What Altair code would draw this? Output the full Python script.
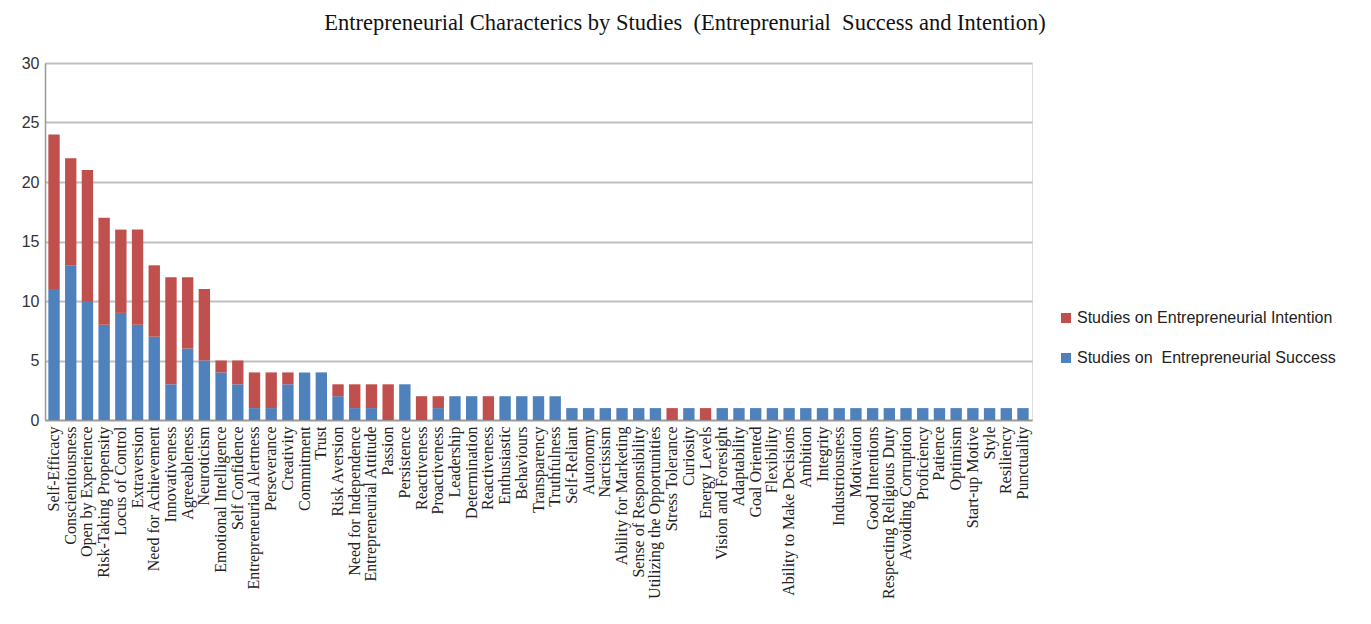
import altair as alt
import pandas as pd

categories = [
    "Self-Efficacy", "Conscientiousness", "Open by Experience", "Risk-Taking Propensity",
    "Locus of Control", "Extraversion", "Need for Achievement", "Innovativeness",
    "Agreeableness", "Neuroticism", "Emotional Intelligence", "Self Confidence",
    "Entrepreneurial Alertness", "Perseverance", "Creativity", "Commitment", "Trust",
    "Risk Aversion", "Need for Independence", "Entrepreneurial Attitude", "Passion",
    "Persistence", "Reactiveness", "Proactiveness", "Leadership", "Determination",
    "Reactiveness ", "Enthusiastic", "Behaviours", "Transparency", "Truthfulness",
    "Self-Reliant", "Autonomy", "Narcissism", "Ability for Marketing",
    "Sense of Responsibility", "Utilizing the Opportunities", "Stress Tolerance",
    "Curiosity", "Energy Levels", "Vision and Foresight", "Adaptability", "Goal Oriented",
    "Flexibility", "Ability to Make Decisions", "Ambition", "Integrity", "Industriousness",
    "Motivation", "Good Intentions", "Respecting Religious Duty", "Avoiding Corruption",
    "Proficiency", "Patience", "Optimism", "Start-up Motive", "Style", "Resiliency",
    "Punctuality",
]

success = [11, 13, 10, 8, 9, 8, 7, 3, 6, 5, 4, 3, 1, 1, 3, 4, 4, 2, 1, 1, 0, 3, 0, 1, 2, 2,
           0, 2, 2, 2, 2, 1, 1, 1, 1, 1, 1, 0, 1, 0, 1, 1, 1, 1, 1, 1, 1, 1, 1, 1, 1, 1,
           1, 1, 1, 1, 1, 1, 1]
intention = [13, 9, 11, 9, 7, 8, 6, 9, 6, 6, 1, 2, 3, 3, 1, 0, 0, 1, 2, 2, 3, 0, 2, 1, 0, 0,
             2, 0, 0, 0, 0, 0, 0, 0, 0, 0, 0, 1, 0, 1, 0, 0, 0, 0, 0, 0, 0, 0, 0, 0, 0, 0,
             0, 0, 0, 0, 0, 0, 0]

series_names = ["Studies on Entrepreneurial Intention", "Studies on\u00a0 Entrepreneurial Success"]
series_colors = ["#C0504D", "#4F81BD"]

rows = []
for c, s, i in zip(categories, success, intention):
    rows.append({"cat": c, "series": series_names[1], "value": s, "ord": 0})
    rows.append({"cat": c, "series": series_names[0], "value": i, "ord": 1})
df = pd.DataFrame(rows)

chart = alt.Chart(df).mark_bar().encode(
    x=alt.X("cat:N", sort=categories, title=None,
            scale=alt.Scale(paddingInner=0.32, paddingOuter=0.2),
            axis=alt.Axis(labelAngle=-90, labelFont="Liberation Serif", labelFontSize=16,
                          labelColor="#222", ticks=False, domainColor="#999",
                          domainWidth=1.5, labelPadding=6, labelLimit=300)),
    y=alt.Y("value:Q", stack="zero", title=None,
            scale=alt.Scale(domain=[0, 30], nice=False),
            axis=alt.Axis(values=[0, 5, 10, 15, 20, 25, 30], labelFont="Liberation Sans",
                          labelFontSize=16, labelColor="#333", ticks=False,
                          domainColor="#999", domainWidth=1.5, labelPadding=6,
                          gridColor="#BFBFBF", gridWidth=2)),
    color=alt.Color("series:N", scale=alt.Scale(domain=series_names, range=series_colors),
                    legend=alt.Legend(title=None, orient="none", legendX=1013, legendY=247,
                                      symbolType="square", symbolSize=100,
                                      symbolStrokeWidth=0, rowPadding=24, labelOffset=3,
                                      labelFont="Liberation Sans", labelFontSize=16,
                                      labelColor="#222", labelLimit=400)),
    order=alt.Order("ord:Q"),
).properties(
    width=987,
    height=357,
    title=alt.TitleParams(
        "Entrepreneurial Characterics by Studies\u00a0 (Entreprenurial\u00a0 Success and Intention)",
        anchor="start", dx=303, offset=21, font="Liberation Serif", fontSize=22.5,
        fontWeight="normal", color="#111"),
    autosize=alt.AutoSizeParams(type="none"),
    padding={"left": 45, "top": 63, "right": 339, "bottom": 204},
).configure_view(stroke=None).configure(background="white")

chart.save("out.html", embed_options={"renderer": "svg", "actions": False})
